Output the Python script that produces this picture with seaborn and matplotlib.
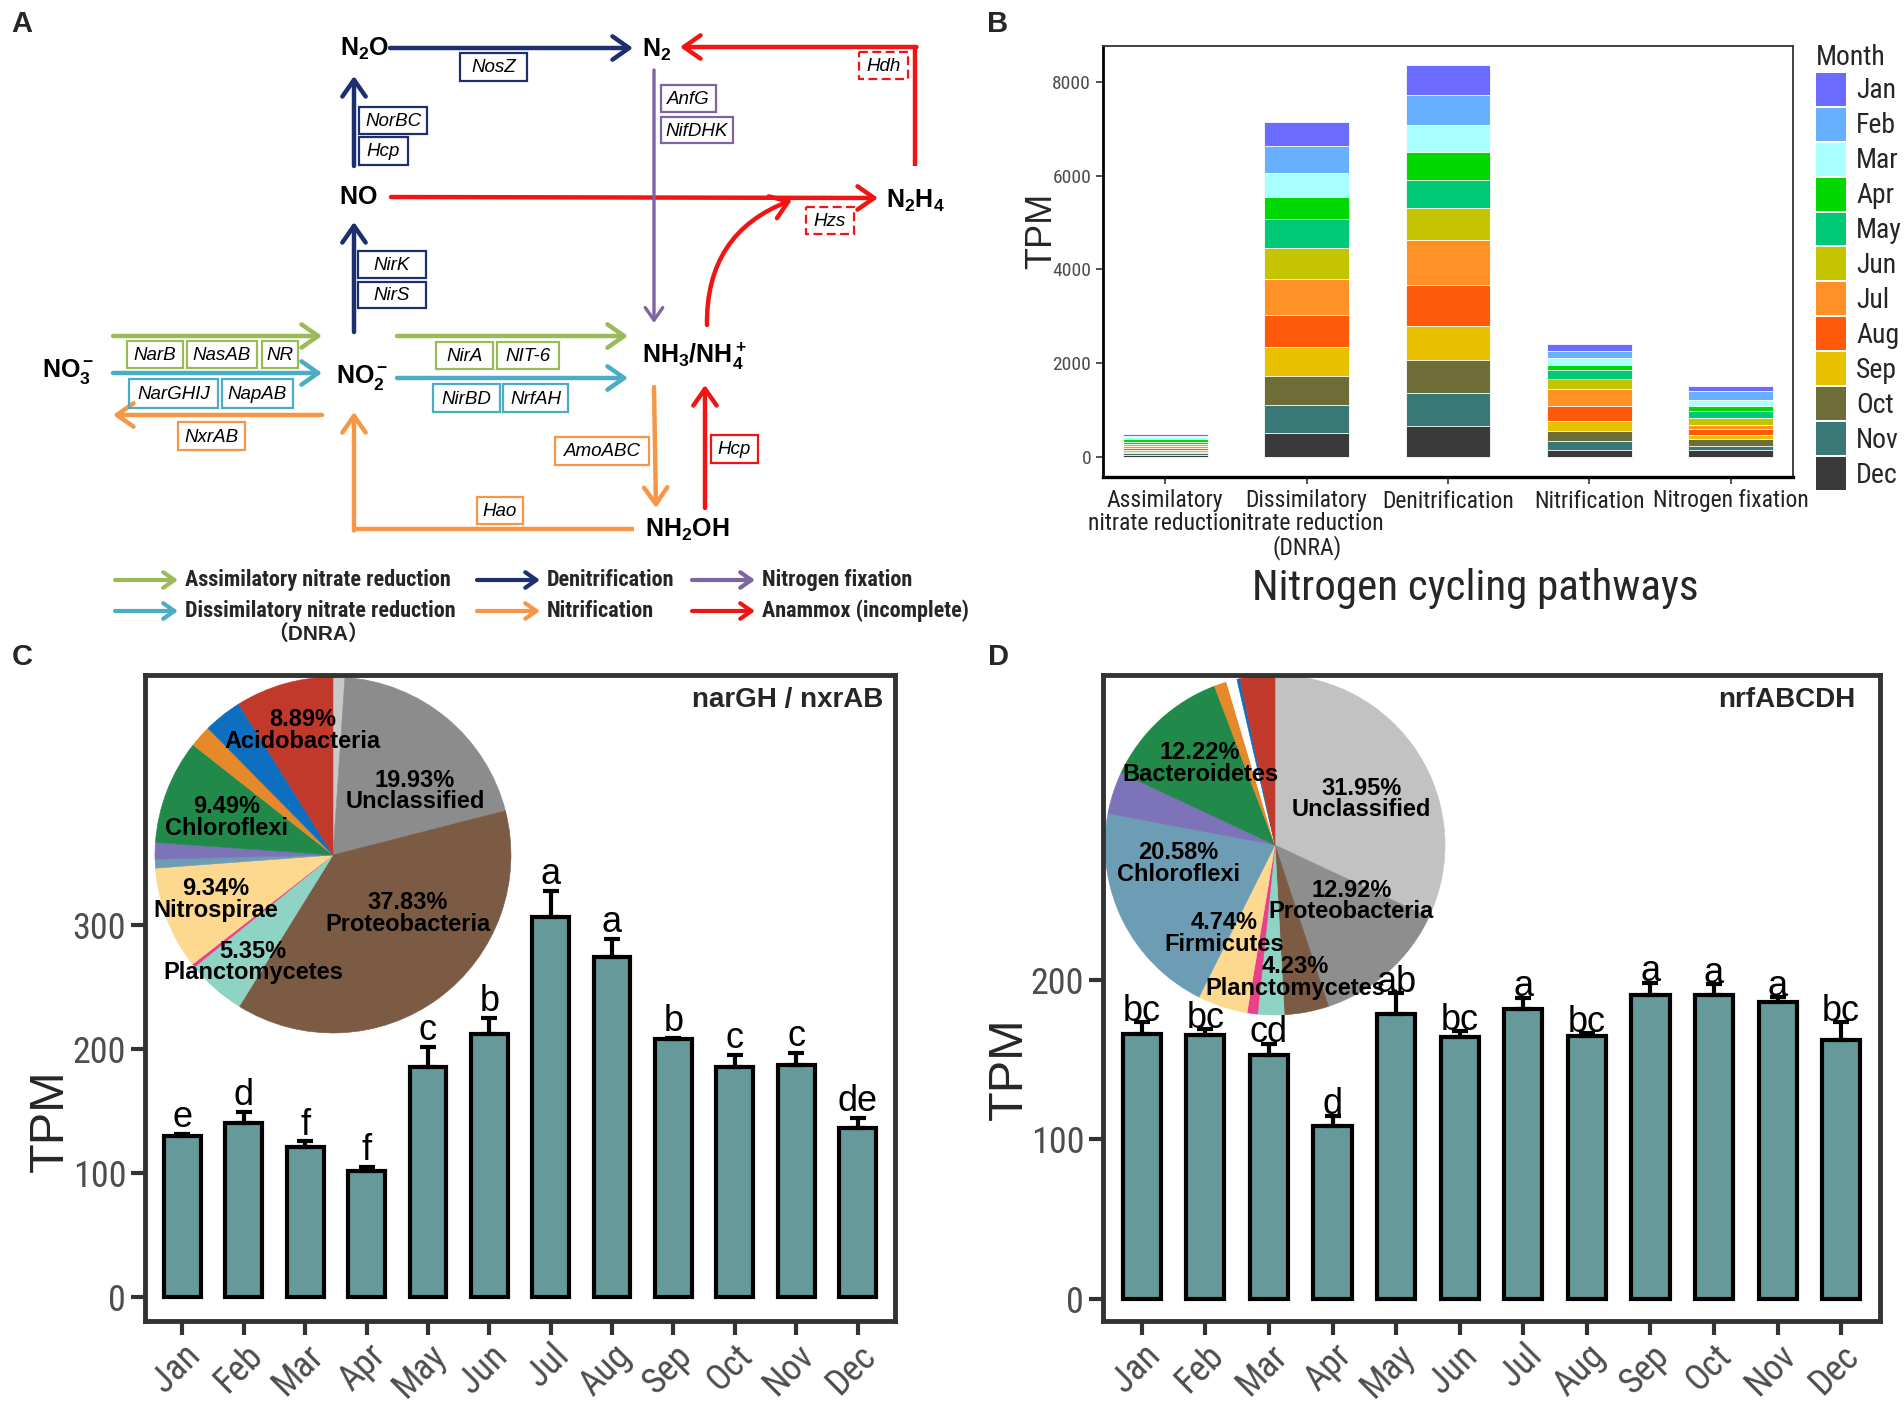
import os
import numpy as np
import pandas as pd
import seaborn as sns
import matplotlib
matplotlib.use('Agg')
import matplotlib.pyplot as plt
from matplotlib import font_manager
from matplotlib.font_manager import FontProperties
from matplotlib.patches import FancyArrowPatch, Rectangle, Patch

sns.set_theme(style='white')
plt.rcParams['font.family'] = ['Liberation Sans', 'DejaVu Sans']
plt.rcParams['mathtext.fontset'] = 'custom'
plt.rcParams['mathtext.rm'] = 'Liberation Sans'
plt.rcParams['mathtext.it'] = 'Liberation Sans:italic'
plt.rcParams['mathtext.bf'] = 'Liberation Sans:bold'

# look for a condensed sans face (the reference uses a narrow Arial)
stems = {}
for f in font_manager.fontManager.ttflist:
    stem = os.path.splitext(os.path.basename(f.fname))[0].lower()
    stems[stem.replace('-', '').replace('_', '').replace(' ', '')] = f.fname
NARROW_REG = next((stems[s] for s in ['liberationsansnarrowregular', 'robotocondensedregular',
                                       'dejavusanscondensed', 'notosanscondensedregular',
                                       'notosanscondensed', 'opensanscondensedregular']
                   if s in stems), None)
NARROW_BOLD = next((stems[s] for s in ['liberationsansnarrowbold', 'robotocondensedbold',
                                        'dejavusanscondensedbold', 'notosanscondensedbold',
                                        'opensanscondensedbold']
                    if s in stems), None)


def nfp(size, bold=False):
    path = NARROW_BOLD if bold else NARROW_REG
    if path:
        return FontProperties(fname=path, size=size)
    return FontProperties(family='Liberation Sans', weight='bold' if bold else 'normal',
                          size=size * 0.85)


# ---------------- data ----------------
months = ['Jan', 'Feb', 'Mar', 'Apr', 'May', 'Jun', 'Jul', 'Aug', 'Sep', 'Oct', 'Nov', 'Dec']
month_colors = ['#6B6BFF', '#66B0FF', '#A8FFFF', '#00D800', '#00C875', '#C5C400',
                '#FF9126', '#FF5A0A', '#E8C100', '#6E6C37', '#3A7877', '#3A3A3A']

pathways = ['Assimilatory\nnitrate reduction', 'Dissimilatory\nnitrate reduction\n(DNRA)',
            'Denitrification', 'Nitrification', 'Nitrogen fixation']
tpm_assim = [42, 33, 25, 66, 58, 42, 42, 42, 33, 33, 42, 42]
tpm_dnra = [523, 557, 515, 482, 615, 656, 756, 698, 615, 606, 606, 515]
tpm_denit = [631, 631, 581, 598, 606, 673, 955, 872, 723, 714, 698, 665]
tpm_nitrif = [141, 158, 133, 108, 199, 208, 374, 307, 224, 208, 199, 150]
tpm_nfix = [125, 174, 133, 100, 166, 133, 100, 116, 100, 133, 100, 150]

nar_mean = [130.6, 140.5, 121.2, 101.7, 186.0, 212.2, 306.5, 274.3, 208.2, 186.0, 187.6, 136.7]
nar_se = [1.0, 8.8, 4.6, 3.2, 16.3, 13.4, 21.5, 15.0, 1.3, 9.3, 9.4, 8.3]
nar_letters = ['e', 'd', 'f', 'f', 'c', 'b', 'a', 'a', 'b', 'c', 'c', 'de']

nrf_mean = [165.9, 165.5, 152.6, 108.0, 178.7, 163.8, 181.7, 164.5, 190.6, 190.2, 185.8, 162.0]
nrf_se = [7.3, 3.6, 7.3, 6.7, 13.0, 3.8, 6.9, 2.1, 7.4, 7.1, 3.3, 11.2]
nrf_letters = ['bc', 'bc', 'cd', 'd', 'ab', 'bc', 'a', 'bc', 'a', 'a', 'a', 'bc']

# pie slices, clockwise from 12 o'clock
pie_c_taxa = ['Other a', 'Unclassified', 'Proteobacteria', 'Planctomycetes', 'Other b',
              'Nitrospirae', 'Other c', 'Other d', 'Chloroflexi', 'Other e', 'Other f', 'Acidobacteria']
pie_c_share = [1.07, 19.93, 37.83, 5.35, 0.3, 9.34, 0.8, 1.5, 9.49, 2.0, 3.5, 8.89]
pie_c_colors = ['#C8C8C8', '#8C8C8C', '#7B5B44', '#8ED3C3', '#E8408A', '#FDD990',
                '#6C9DB4', '#7C73B8', '#218A4A', '#E5892A', '#0E6FC0', '#C0392B']
pie_c_labelled = ['Acidobacteria', 'Unclassified', 'Chloroflexi', 'Nitrospirae',
                  'Proteobacteria', 'Planctomycetes']

pie_d_taxa = ['Unclassified', 'Proteobacteria', 'Planctomycetes', 'Other a', 'Other b',
              'Firmicutes', 'Chloroflexi', 'Other c', 'Bacteroidetes', 'Other d', 'Other e',
              'Other f', 'Other g']
pie_d_share = [31.95, 12.92, 4.23, 2.5, 1.0, 4.74, 20.58, 4.0, 12.22, 1.2, 1.0, 0.3, 3.3]
pie_d_colors = ['#C2C2C2', '#8E8E8E', '#7B5B44', '#8ED3C3', '#E8408A', '#FDD990',
                '#6C9DB4', '#7C73B8', '#218A4A', '#E5892A', '#FFFFFF', '#0E6FC0', '#C0392B']
pie_d_labelled = ['Bacteroidetes', 'Unclassified', 'Chloroflexi', 'Proteobacteria',
                  'Firmicutes', 'Planctomycetes']

# label placement inside the pies (radius units)
pie_c_label_pos = [(-0.17, 0.70), (0.46, 0.36), (-0.60, 0.21), (-0.66, -0.25), (0.42, -0.33), (-0.45, -0.60)]
pie_d_label_pos = [(-0.44, 0.48), (0.51, 0.27), (-0.57, -0.11), (0.45, -0.33), (-0.30, -0.52), (0.12, -0.78)]

W, H = 1904, 1404
fig = plt.figure(figsize=(W / 100, H / 100), dpi=100, facecolor='white')


def rect(x0, y0, x1, y1):
    return [x0 / W, 1 - y1 / H, (x1 - x0) / W, (y1 - y0) / H]


# ---------------- panel A: pathway diagram ----------------
ax_a = fig.add_axes([0, 0, 1, 1], zorder=0)
ax_a.set_xlim(0, W)
ax_a.set_ylim(H, 0)
ax_a.axis('off')

GREEN, DNRA, NAVY = '#9BBB59', '#4BACC6', '#1C2F6E'
PURPLE, ORANGE, RED = '#8064A2', '#F79646', '#F01414'


def arrow(x0, y0, x1, y1, color, rad=0.0, lw=3.2, ms=24):
    ax_a.add_patch(FancyArrowPatch((x0, y0), (x1, y1),
                                   arrowstyle='->,head_length=0.5,head_width=0.35',
                                   mutation_scale=ms, color=color, lw=lw,
                                   connectionstyle=f'arc3,rad={rad}',
                                   shrinkA=0, shrinkB=0))


def line(xs, ys, color, lw=3.2):
    ax_a.plot(xs, ys, color=color, lw=lw, solid_capstyle='butt')


def gene(text, x0, y0, x1, y1, color, dashed=False):
    ax_a.add_patch(Rectangle((x0, y0), x1 - x0, y1 - y0, fill=False, ec=color, lw=1.6,
                             ls=(0, (4, 2)) if dashed else '-'))
    ax_a.text((x0 + x1) / 2, (y0 + y1) / 2 + 1, text, style='italic', ha='center',
              va='center', fontsize=13.5, color='black')


def node(x, y, text):
    ax_a.text(x, y, text, ha='center', va='center', fontsize=18, color='black')


node(365, 49, r'$\mathbf{N_2O}$')
node(657, 50, r'$\mathbf{N_2}$')
node(358, 197, r'$\mathbf{NO}$')
node(915, 201, r'$\mathbf{N_2H_4}$')
node(68, 372, r'$\mathbf{NO_3^-}$')
node(362, 378, r'$\mathbf{NO_2^-}$')
node(694, 356, r'$\mathbf{NH_3/NH_4^+}$')
node(687, 530, r'$\mathbf{NH_2OH}$')

arrow(390, 48, 633, 48, NAVY)
arrow(354, 166, 354, 76, NAVY)
arrow(354, 332, 354, 222, NAVY)
arrow(391, 197, 878, 198, RED)
line([915, 915], [166, 47], RED)
arrow(916.5, 47, 680, 47, RED)
arrow(654, 70, 654, 323, PURPLE, lw=2.4, ms=18)
arrow(707, 325, 792, 200, RED, rad=-0.35)
arrow(113, 336, 322, 336, GREEN)
arrow(113, 373, 322, 373, DNRA)
arrow(322, 415, 113, 415, ORANGE)
arrow(397, 336, 628, 336, GREEN)
arrow(397, 378, 628, 378, DNRA)
arrow(654, 387, 656, 508, ORANGE)
arrow(705, 508, 705, 385, RED)
line([634, 354], [529, 529], ORANGE)
arrow(354, 530.5, 354, 412, ORANGE)

gene('NosZ', 460, 53, 527, 81, NAVY)
gene('NorBC', 359, 107, 427, 134, NAVY)
gene('Hcp', 359, 137, 408, 165, NAVY)
gene('NirK', 358, 251, 426, 278, NAVY)
gene('NirS', 358, 282, 426, 308, NAVY)
gene('Hdh', 859, 52, 908, 79, RED, dashed=True)
gene('AnfG', 661, 85, 716, 112, PURPLE)
gene('NifDHK', 661, 117, 733, 143, PURPLE)
gene('Hzs', 806, 207, 854, 234, RED, dashed=True)
gene('NarB', 127, 341, 183, 368, GREEN)
gene('NasAB', 187, 341, 257, 368, GREEN)
gene('NR', 262, 341, 298, 368, GREEN)
gene('NarGHIJ', 129, 379, 218, 408, DNRA)
gene('NapAB', 222, 379, 293, 408, DNRA)
gene('NxrAB', 178, 422, 245, 450, ORANGE)
gene('NirA', 436, 342, 493, 369, GREEN)
gene('NIT-6', 497, 342, 559, 369, GREEN)
gene('NirBD', 433, 384, 500, 412, DNRA)
gene('NrfAH', 503, 384, 568, 412, DNRA)
gene('AmoABC', 555, 437, 649, 465, ORANGE)
gene('Hcp', 711, 435, 758, 463, RED)
gene('Hao', 477, 497, 523, 524, ORANGE)

legend_rows = [
    (580, [(GREEN, 115, 'Assimilatory nitrate reduction'), (NAVY, 477, 'Denitrification'),
           (PURPLE, 692, 'Nitrogen fixation')]),
    (611, [(DNRA, 115, 'Dissimilatory nitrate reduction'), (ORANGE, 477, 'Nitrification'),
           (RED, 692, 'Anammox (incomplete)')]),
]
for y, items in legend_rows:
    for color, x, label in items:
        arrow(x, y, x + 63, y, color, lw=3.0, ms=16)
        ax_a.text(x + 70, y, label, ha='left', va='center',
                  fontproperties=nfp(16, bold=True))
ax_a.text(318, 634, '（DNRA）', ha='center', va='center', fontsize=15, weight='bold',
          family=['Liberation Sans', 'Noto Sans CJK SC', 'DejaVu Sans'])

for lab, x, y in [('A', 22, 24), ('B', 998, 24), ('C', 22, 657), ('D', 998, 657)]:
    fig.text(x / W, 1 - y / H, lab, ha='center', va='center', fontsize=21, weight='bold')

# ---------------- panel B: stacked bars ----------------
axB = fig.add_axes(rect(1103, 46, 1793, 477), zorder=2)
stack = pd.DataFrame([tpm_assim, tpm_dnra, tpm_denit, tpm_nitrif, tpm_nfix],
                     index=pathways, columns=months)
# cumulative heights from Dec (bottom) up to each month
cum_from_bottom = stack[months[::-1]].cumsum(axis=1)[months]
for m, c in zip(months, month_colors):
    sns.barplot(x=pathways, y=cum_from_bottom[m].values, color=c, saturation=1,
                width=0.6, edgecolor='white', linewidth=0.6, ax=axB)
axB.set_xlim(-0.44, 4.44)
axB.set_ylim(-417, 8757)
axB.set_yticks([0, 2000, 4000, 6000, 8000])
axB.set_xlabel('Nitrogen cycling pathways', fontproperties=nfp(31))
axB.xaxis.set_label_coords(0.54, -0.21)
axB.set_ylabel('TPM', fontsize=26)
axB.yaxis.set_label_coords(-0.064, 0.57)
axB.tick_params(axis='both', bottom=True, left=True, length=5, width=1.2, color='#333333')
axB.tick_params(axis='y', labelcolor='#4D4D4D')
axB.tick_params(axis='x', labelcolor='#222222', pad=4)
for lab in axB.get_xticklabels():
    lab.set_fontproperties(nfp(17))
    lab.set_linespacing(1.0)
for lab in axB.get_yticklabels():
    lab.set_fontproperties(nfp(14))
for s in axB.spines.values():
    s.set_color('#333333')
    s.set_linewidth(1.3)
axB.spines['left'].set_linewidth(2.0)
axB.spines['bottom'].set_linewidth(2.4)
axB.spines['left'].set_color('black')
axB.spines['bottom'].set_color('black')

handles = [Patch(facecolor=c, edgecolor='none', label=m) for m, c in zip(months, month_colors)]
axB.legend(handles=handles, title='Month', loc='upper left', bbox_to_anchor=(1.033, 1.005),
           frameon=False, prop=nfp(20), title_fontproperties=nfp(20),
           handlelength=1.1, handleheight=1.45, labelspacing=0.07, handletextpad=0.35,
           borderpad=0, borderaxespad=0, alignment='left')


# ---------------- panels C and D: monthly bars with pie insets ----------------
def month_panel(box, pie_box, mean, se, letters, ylim, yticks, title, title_x,
                taxa, share, colors, labelled, label_pos, ylab_x, ylab_y, letter_pad):
    pie_ax = fig.add_axes(pie_box, zorder=1)
    wedges, _ = pie_ax.pie(share, colors=colors, startangle=90, counterclock=False, radius=1)
    for w in wedges:
        w.set_edgecolor(w.get_facecolor())
        w.set_linewidth(0.4)
    pie_ax.set_xlim(-1, 1)
    pie_ax.set_ylim(-1, 1)
    pie_ax.set_aspect('equal')
    pie_ax.axis('off')
    for name, (px, py) in zip(labelled, label_pos):
        pct = share[taxa.index(name)]
        pie_ax.text(px, py, f'{pct:.2f}%\n{name}', ha='center', va='center',
                    fontsize=17, weight='bold', linespacing=0.92, color='black')

    ax = fig.add_axes(box, zorder=2)
    ax.set_facecolor('none')
    sns.barplot(x=months, y=mean, color='#669999', saturation=1, width=0.6,
                edgecolor='black', linewidth=3, ax=ax)
    x = np.arange(len(months))
    mean = np.asarray(mean)
    se = np.asarray(se)
    ax.errorbar(x, mean, yerr=[np.zeros_like(se), se], fmt='none', ecolor='black',
                elinewidth=3, capsize=5.5, capthick=3, zorder=3)
    for xi, top, lab in zip(x, mean + se, letters):
        ax.annotate(lab, (xi, top), xytext=(0, letter_pad), textcoords='offset points',
                    ha='center', va='baseline', fontsize=26, color='black')
    ax.set_xlim(-0.61, len(months) - 0.39)
    ax.set_ylim(*ylim)
    ax.set_yticks(yticks)
    ax.set_xlabel('')
    ax.set_ylabel('TPM', fontsize=35)
    ax.yaxis.set_label_coords(ylab_x, ylab_y)
    ax.tick_params(axis='both', bottom=True, left=True, length=10, width=3,
                   color='#333333', labelcolor='#4D4D4D')
    ax.tick_params(axis='x', pad=2)
    for lab in ax.get_xticklabels():
        lab.set_fontproperties(nfp(26))
        lab.set_rotation(45)
        lab.set_ha('right')
        lab.set_rotation_mode('anchor')
    for lab in ax.get_yticklabels():
        lab.set_fontproperties(nfp(26))
    for s in ax.spines.values():
        s.set_visible(True)
        s.set_color('#333333')
        s.set_linewidth(3.5)
    ax.text(title_x, 0.982, title, transform=ax.transAxes, ha='right', va='top',
            fontsize=20, weight='bold')
    return ax


month_panel(rect(145, 675, 895, 1321), rect(155, 677, 511, 1033),
            nar_mean, nar_se, nar_letters, (-19, 502), [0, 100, 200, 300],
            'narGH / nxrAB', 0.984,
            pie_c_taxa, pie_c_share, pie_c_colors, pie_c_labelled, pie_c_label_pos,
            -0.096, 0.31, 5)
month_panel(rect(1103, 675, 1880, 1321), rect(1105, 675, 1445, 1015),
            nrf_mean, nrf_se, nrf_letters, (-14, 391), [0, 100, 200],
            'nrfABCDH', 0.968,
            pie_d_taxa, pie_d_share, pie_d_colors, pie_d_labelled, pie_d_label_pos,
            -0.091, 0.39, 1)

fig.savefig('out.png', dpi=100, facecolor='white')
